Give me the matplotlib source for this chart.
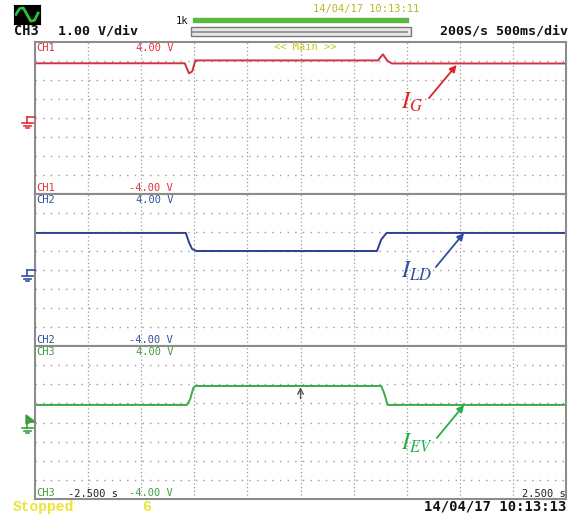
import matplotlib.pyplot as plt
from matplotlib.lines import Line2D
from matplotlib.patches import Rectangle
import numpy as np

plt.rcParams['mathtext.fontset'] = 'stix'

# 数据：示波器三个通道的波形（时间 s，电压 V）
t_ch1 = [-2.5, -1.09, -1.05, -1.02, -0.99, 0.73, 0.776, 0.82, 0.86, 2.5]
v_ch1 = [2.88, 2.88, 2.35, 2.45, 3.03, 3.03, 3.35, 3.0, 2.87, 2.87]

t_ch2 = [-2.5, -1.08, -1.05, -1.02, -0.98, 0.72, 0.76, 0.81, 2.5]
v_ch2 = [1.95, 1.95, 1.45, 1.1, 1.0, 1.0, 1.6, 1.95, 1.95]

t_ch3 = [-2.5, -1.07, -1.04, -1.01, -0.99, 0.76, 0.79, 0.82, 2.5]
v_ch3 = [0.92, 0.92, 1.2, 1.8, 1.91, 1.91, 1.5, 0.92, 0.92]

labels = ["$I_G$", "$I_{LD}$", "$I_{EV}$"]
colors = ['#d0323f', '#2c3f92', '#3aa948']
text_colors = ['#e0202a', '#2d4f9e', '#22b04b']
label_colors = ['#e4303a', '#3050a0', '#3c9f3c']
# 标注：箭头尾、箭头头、文字位置（数据坐标）
arrow_tail = [(1.21, 1.05), (1.275, 0.16), (1.284, -0.81)]
arrow_head = [(1.47, 2.79), (1.54, 1.95), (1.54, 0.92)]
text_pos = [(0.95, 0.85), (0.95, -0.05), (0.95, -1.05)]

W, H = 584, 518
fig = plt.figure(figsize=(W / 100, H / 100), dpi=100)
fig.patch.set_facecolor('white')

def fx(x):
    return x / W

def fy(y):
    return 1 - y / H

mono = 'DejaVu Sans Mono'

panels = [(42, 194), (194, 346), (346, 499)]
traces = [(t_ch1, v_ch1), (t_ch2, v_ch2), (t_ch3, v_ch3)]
axes = []
for i, (top, bot) in enumerate(panels):
    ax = fig.add_axes([fx(35), fy(bot), fx(566) - fx(35), (bot - top) / H])
    t, v = traces[i]
    ax.plot(t, v, color=colors[i], lw=1.4)
    ax.set_xlim(-2.5, 2.5)
    ax.set_ylim(-4, 4)
    ax.set_xticks(np.arange(-2.0, 2.01, 0.5))
    ax.set_yticks(np.arange(-3, 4, 1))
    ax.tick_params(length=0, labelbottom=False, labelleft=False)
    ax.grid(axis='x', color='#9a9a9a', linestyle=(0, (1, 2)), lw=0.9)
    ax.grid(axis='y', color='#9a9a9a', linestyle=(0, (1, 4.5)), lw=1.0)
    for s in ax.spines.values():
        s.set_color('#8c8c8c')
        s.set_linewidth(1.5)
    ax.annotate('', xy=arrow_head[i], xytext=arrow_tail[i],
                arrowprops=dict(arrowstyle='-|>', color=text_colors[i], lw=1.3,
                                mutation_scale=10, shrinkA=0, shrinkB=0))
    ax.text(*text_pos[i], labels[i], color=text_colors[i], fontsize=17,
            ha='left', va='center')
    axes.append(ax)

# 触发位置小箭头
axes[2].annotate('', xy=(0, 1.85), xytext=(0, 1.25),
                 arrowprops=dict(arrowstyle='->', color='#555555', lw=1.0,
                                 shrinkA=0, shrinkB=0))

# 通道标签
names = ['CH1', 'CH2', 'CH3']
for i, (top, bot) in enumerate(panels):
    c = label_colors[i]
    fig.text(fx(36), fy(top + 1), names[i], color=c, family=mono, fontsize=7.5, va='top')
    fig.text(fx(173), fy(top + 1), '4.00 V', color=c, family=mono, fontsize=7.5,
             va='top', ha='right')
    fig.text(fx(36), fy(bot - 1), names[i], color=c, family=mono, fontsize=7.5, va='bottom')
    fig.text(fx(173), fy(bot - 1), '-4.00 V', color=c, family=mono, fontsize=7.5,
             va='bottom', ha='right')

# 接地标记
for i, gy in enumerate([117, 270, 422]):
    c = label_colors[i]
    segs = [((27, 35), (gy, gy)), ((27, 27), (gy, gy + 6)),
            ((22, 33), (gy + 6, gy + 6)), ((24, 31), (gy + 8.5, gy + 8.5)),
            ((26, 29), (gy + 11, gy + 11))]
    for xs, ys in segs:
        fig.add_artist(Line2D([fx(xs[0]), fx(xs[1])], [fy(ys[0]), fy(ys[1])],
                              color=c, lw=1.2))
fig.add_artist(plt.Polygon([(fx(26), fy(415)), (fx(26), fy(424)), (fx(34), fy(421))],
                           closed=True, color=label_colors[2]))

# 顶部信息栏
icon = fig.add_axes([fx(14), fy(24), fx(26), 19 / H])
icon.set_facecolor('black')
icon.plot([0, 1, 2, 3, 4, 5, 6], [0, 0.8, 0.9, 0, -0.9, -0.8, 0.2], color='#2fbf3f', lw=2)
icon.set_xlim(-0.5, 6.5)
icon.set_ylim(-1.3, 1.3)
icon.set_xticks([])
icon.set_yticks([])

fig.text(fx(14), fy(31), 'CH3', family=mono, fontsize=9.8, fontweight='bold',
         va='center', color='#111111')
fig.text(fx(58), fy(31), '1.00 V/div', family=mono, fontsize=9.6, fontweight='bold',
         va='center', color='#111111')
fig.text(fx(176), fy(21), '1k', family=mono, fontsize=7.5, va='center', color='#111111')
fig.add_artist(Rectangle((fx(193), fy(22)), fx(408) - fx(193), 4 / H, color='#5cb83c'))
fig.add_artist(Rectangle((fx(191), fy(36)), fx(411) - fx(191), 9 / H,
                         facecolor='#e8e8e8', edgecolor='#777777', lw=1.0))
fig.add_artist(Line2D([fx(193), fx(407)], [fy(31.5), fy(31.5)], color='#888888', lw=1.2))
fig.text(fx(313), fy(9), '14/04/17 10:13:11', family=mono, fontsize=7.5, va='center',
         color='#b8b820')
fig.text(fx(568), fy(31), '200S/s 500ms/div', family=mono, fontsize=9.6,
         fontweight='bold', va='center', ha='right', color='#111111')
fig.text(fx(274), fy(47.5), '<< Main >>', family=mono, fontsize=7.5, va='center',
         color='#c8c820')

# 底部信息栏
fig.text(fx(68), fy(494), '-2.500 s', family=mono, fontsize=7.5, va='center', color='#222222')
fig.text(fx(566), fy(494), '2.500 s', family=mono, fontsize=7.5, va='center', ha='right',
         color='#222222')
fig.text(fx(13), fy(507), 'Stopped', family='Liberation Mono', fontsize=10.5,
         fontweight='bold', va='center', color='#ece43a')
fig.text(fx(142), fy(507), '6', family='Liberation Mono', fontsize=10.5,
         fontweight='bold', va='center', color='#ece43a')
fig.text(fx(566), fy(507), '14/04/17 10:13:13', family=mono, fontsize=10,
         fontweight='bold', va='center', ha='right', color='#111111')

fig.savefig('out.png', dpi=100)
